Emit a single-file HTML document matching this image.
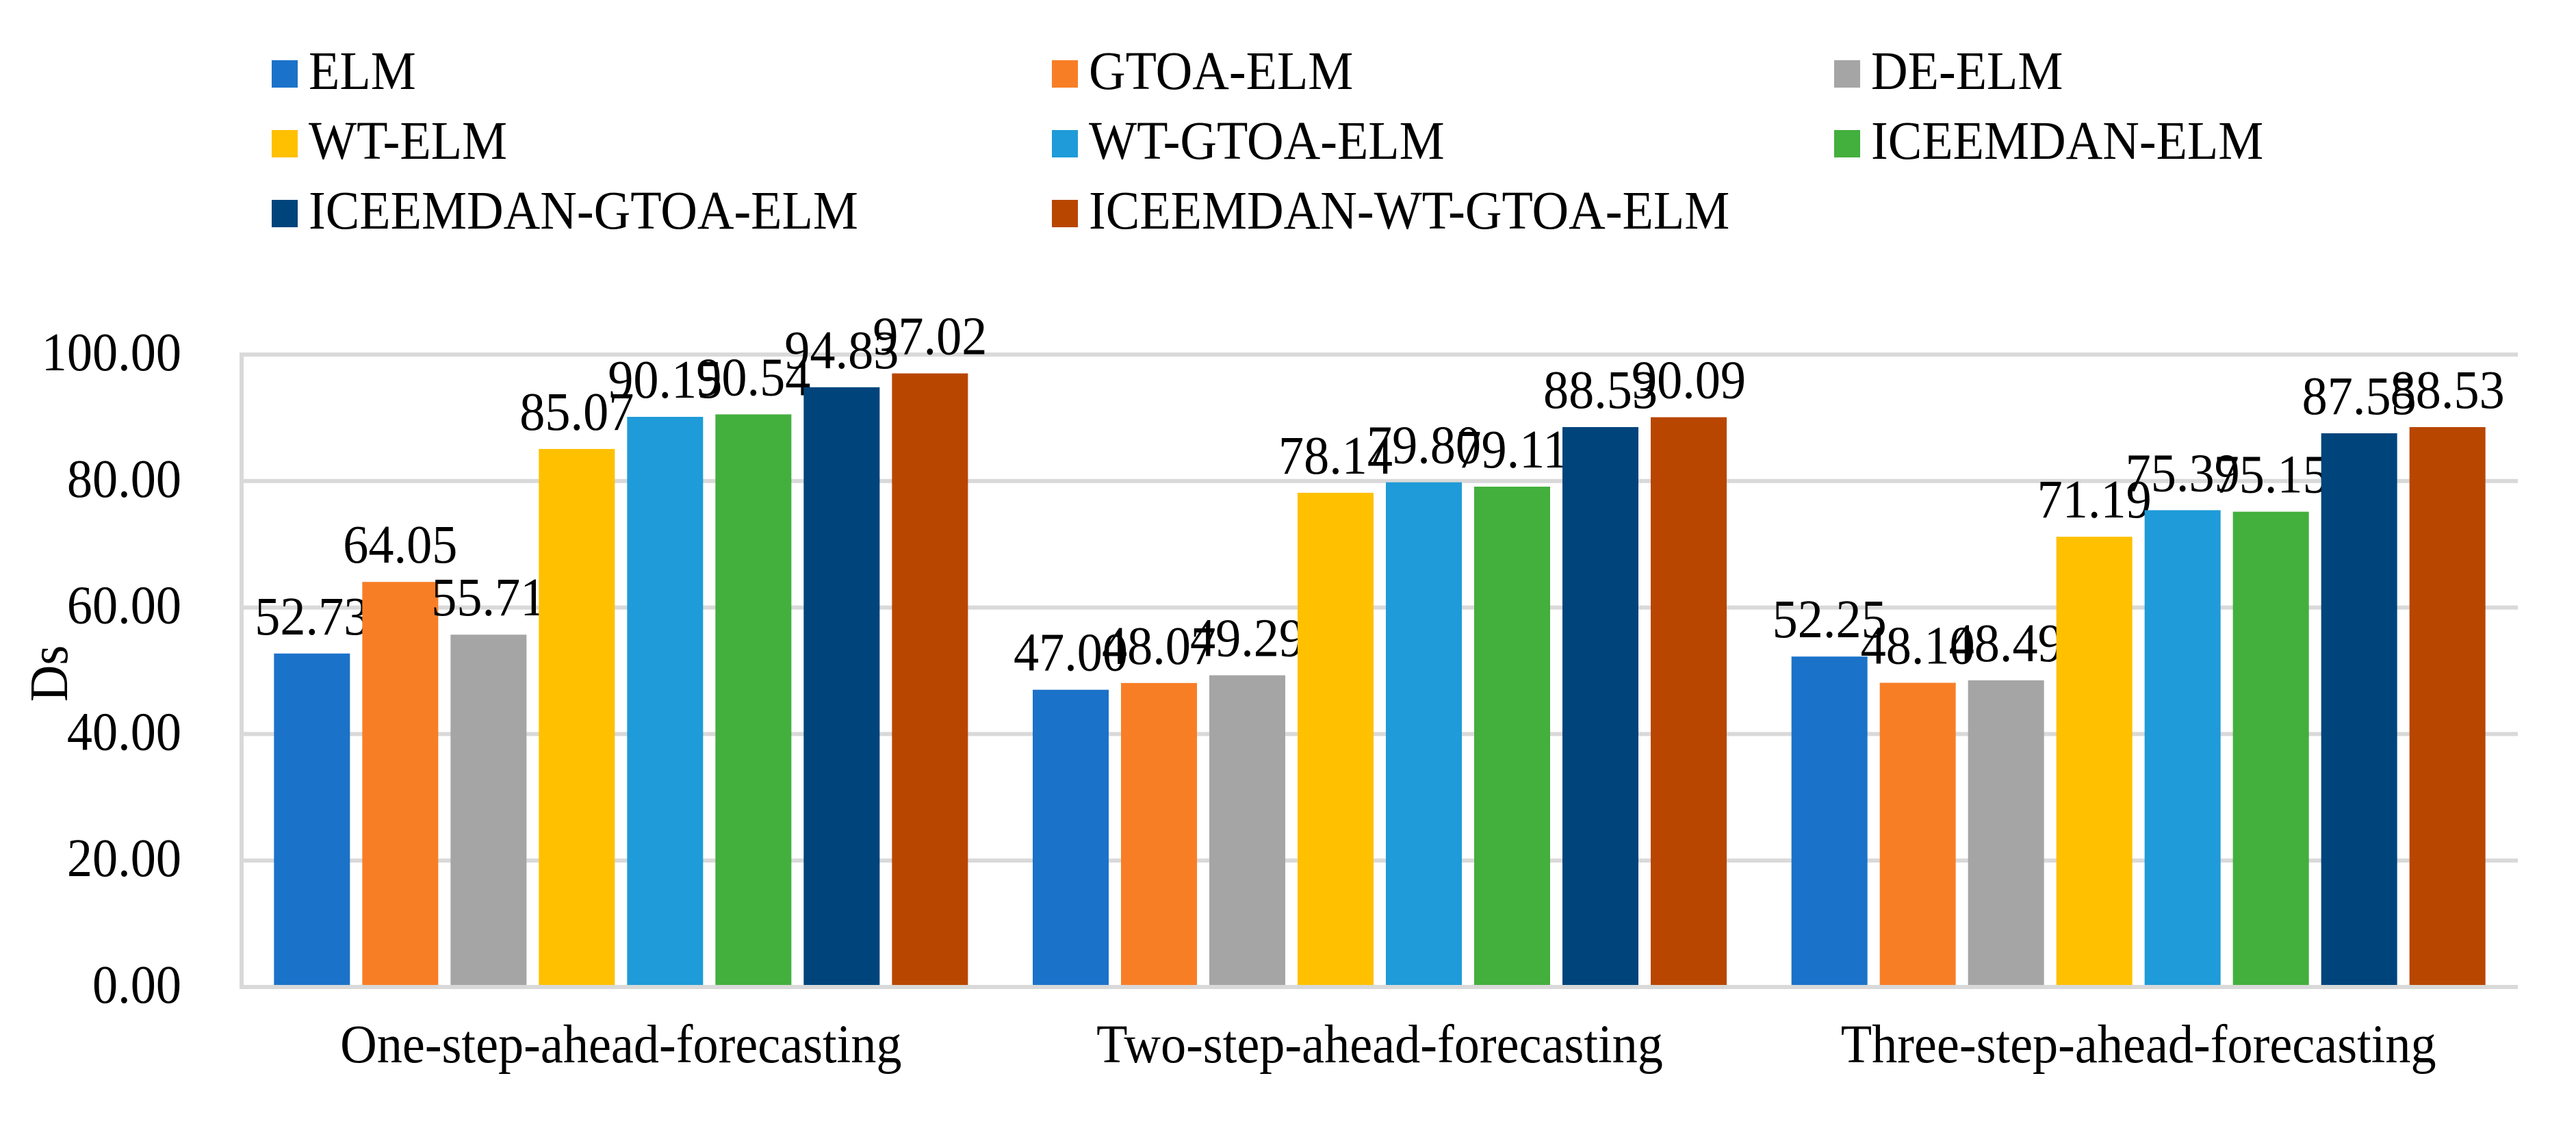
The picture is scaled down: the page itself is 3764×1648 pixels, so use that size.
<!DOCTYPE html>
<html><head><meta charset="utf-8"><style>
html,body{margin:0;padding:0;background:#fff;}
svg{display:block;font-family:"Liberation Serif","Times New Roman",serif;}
</style></head><body>
<svg id="chart" width="3764" height="1648" viewBox="0 0 3764 1648"></svg>
<script>
const categories = ["One-step-ahead-forecasting","Two-step-ahead-forecasting","Three-step-ahead-forecasting"];
const seriesNames = ["ELM","GTOA-ELM","DE-ELM","WT-ELM","WT-GTOA-ELM","ICEEMDAN-ELM","ICEEMDAN-GTOA-ELM","ICEEMDAN-WT-GTOA-ELM"];
const seriesColors = ["#1B72C9","#F87E26","#A5A5A5","#FFC000","#1E9BD8","#43AF3D","#00447C","#B84600"];
const valsELM = [52.73,47.00,52.25];
const valsGTOA = [64.05,48.07,48.10];
const valsDE = [55.71,49.29,48.49];
const valsWT = [85.07,78.14,71.19];
const valsWTGTOA = [90.15,79.80,75.39];
const valsICE = [90.54,79.11,75.15];
const valsICEGTOA = [94.83,88.53,87.55];
const valsFull = [97.02,90.09,88.53];
const yTicks = [0,20,40,60,80,100];
const yTickLabels = ["0.00","20.00","40.00","60.00","80.00","100.00"];

const series = [valsELM,valsGTOA,valsDE,valsWT,valsWTGTOA,valsICE,valsICEGTOA,valsFull];
const NS="http://www.w3.org/2000/svg";
const svg=document.getElementById('chart');
const L=353,R=3679,T=518,B=1442;
function y(v){return B-(v/100)*(B-T);}
const catW=(R-L)/categories.length;
const barW=111, gap=18;
function x(ci,si){const span=8*barW+7*gap;return L+catW*ci+catW/2-span/2+si*(barW+gap);}
function mk(tag,attrs){const e=document.createElementNS(NS,tag);for(const k in attrs)e.setAttribute(k,attrs[k]);svg.appendChild(e);return e;}
function txt(str,tx,ty,anchor){
  const e=mk('text',{x:0,y:0,'font-size':79,'text-anchor':anchor,fill:'#000',transform:'translate('+tx+','+ty+') scale(0.94,1)'});
  e.textContent=str;return e;
}

yTicks.forEach((t,i)=>{
  if(t>0){const g=mk('line',{x1:L,x2:R,y1:y(t),y2:y(t),stroke:'#D9D9D9','stroke-width':6});
  
  }
  const tx=txt(yTickLabels[i],265,y(t)+23,'end');
  
  
});
const ax=mk('line',{x1:L,x2:L,y1:T-3,y2:B+3,stroke:'#D9D9D9','stroke-width':6});



series.forEach((vals,si)=>{
  vals.forEach((v,ci)=>{
    const r=mk('rect',{x:x(ci,si),y:y(v),width:barW,height:B-y(v),fill:seriesColors[si]});
    
    
    const lb=txt(v.toFixed(2),x(ci,si)+barW/2,y(v)-28,'middle');
    
    
  });
});
const base=mk('line',{x1:L,x2:R,y1:B,y2:B,stroke:'#D9D9D9','stroke-width':6});



categories.forEach((c,ci)=>{
  const t=txt(c,L+catW*ci+catW/2,1552,'middle');
  
  
});
const yt=mk('text',{x:0,y:0,'font-size':79,'text-anchor':'middle',fill:'#000',transform:'translate(98,984) rotate(-90) scale(0.94,1)'});
yt.textContent='Ds';



const legX=[397,1537,2680], legY=[107,209,311];
seriesNames.forEach((n,i)=>{
  const col=i%3,row=Math.floor(i/3);
  const m=mk('rect',{x:legX[col],y:legY[row]-19,width:38,height:40,fill:seriesColors[i]});
  
  
  const t=txt(n,legX[col]+54,legY[row]+23,'start');
  
  
});
</script>
</body></html>
